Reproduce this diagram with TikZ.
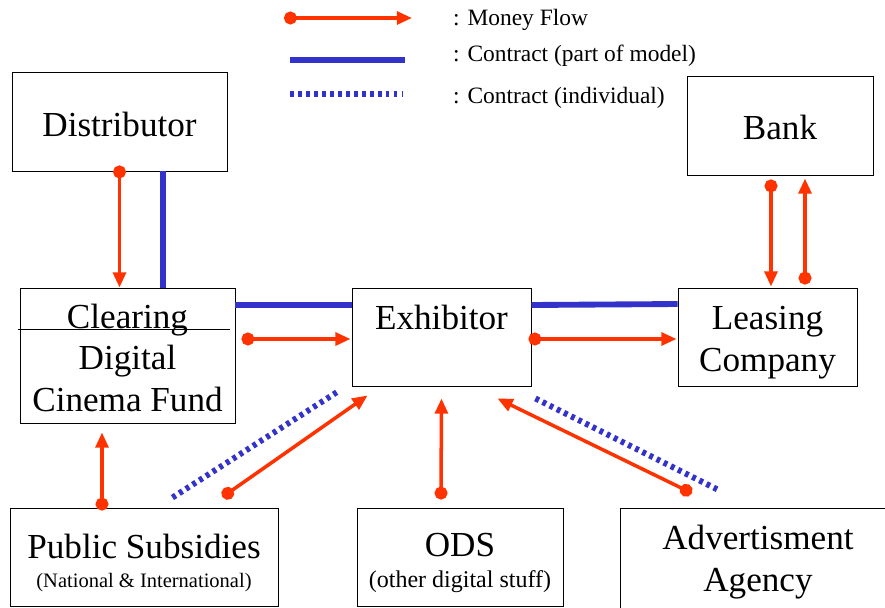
\documentclass[tikz,border=0pt]{standalone}
\usepackage{fontspec}
\setmainfont{Liberation Serif}
\usetikzlibrary{arrows.meta,calc}
\definecolor{moneyred}{RGB}{255,51,0}
\definecolor{contractblue}{RGB}{51,51,204}
\tikzset{
  box/.style={draw,line width=0.8pt,inner sep=0pt},
  boxtext/.style={inner sep=0pt,align=center,font=\fontsize{30}{35.7}\selectfont},
  money/.style={draw=moneyred,line width=3pt,{Circle[length=11pt]}-{Triangle[length=13pt,width=11pt]}},
  contract/.style={draw=contractblue,line width=5pt},
  indiv/.style={draw=contractblue,line width=5pt,dash pattern=on 3.3pt off 3.5pt},
  legtext/.style={anchor=west,inner sep=0pt,font=\fontsize{20}{24}\selectfont}
}
\begin{document}
\begin{tikzpicture}[x=0.03cm,y=-0.03cm]
\useasboundingbox (0,0) rectangle (885,607);
\clip (0,0) rectangle (885,607);
\begin{scope}
\node[legtext] (legmoney) at (453,20) {: Money Flow};
\node[legtext] (legcontract) at (453,56) {: Contract (part of model)};
\node[legtext] (legindiv) at (453,98) {: Contract (individual)};
\draw[money] ($(legmoney.west)+(-169,-2)$) -- ($(legmoney.west)+(-41,-2)$);
\draw[contract] ($(legcontract.west)+(-163,4)$) -- ($(legcontract.west)+(-48,4)$);
\draw[indiv] ($(legindiv.west)+(-163,-4)$) -- ($(legindiv.west)+(-50,-4)$);
\end{scope}
\node[box,minimum width=6.45cm,minimum height=2.97cm,label={[boxtext,yshift=-2.5pt]center:Distributor}] (dist) at (119.5,121.5) {};
\node[box,minimum width=5.58cm,minimum height=2.97cm,label={[boxtext,yshift=-1.7pt]center:Bank}] (bank) at (780,125.5) {};
\node[box,minimum width=6.45cm,minimum height=4.05cm,label={[boxtext,yshift=-2pt]center:{Clearing\\Digital\\Cinema Fund}}] (clear) at (127.5,355.5) {};
\node[box,minimum width=5.37cm,minimum height=2.94cm,label={[boxtext,yshift=-6pt]center:{Exhibitor\\\strut}}] (exhib) at (441.5,337) {};
\node[box,minimum width=5.37cm,minimum height=2.94cm,label={[boxtext,yshift=-5pt]center:{Leasing\\Company}}] (lease) at (767.5,337) {};
\node[box,minimum width=8.04cm,minimum height=2.94cm,label={[boxtext,yshift=-5pt]center:{Public Subsidies\\[-11pt]{\fontsize{17.5}{20}\selectfont (National \& International)}}}] (pub) at (144,557) {};
\node[box,minimum width=6.18cm,minimum height=2.94cm,label={[boxtext,yshift=-5pt]center:{ODS\\[-9.7pt]{\fontsize{20.5}{24}\selectfont (other digital stuff)}}}] (ods) at (460,557) {};
\node[box,minimum width=8.28cm,minimum height=3.24cm,label={[boxtext]center:{Advertisment\\Agency}}] (adv) at (758,562) {};
\draw[line width=0.8pt] ($(clear.north west)+(-2,42)$) -- ($(clear.north east)+(-5,42)$);
\draw[money] ($(dist.south)+(0,-6)$) -- (dist.south |- clear.north);
\draw[contract] ($(dist.south)+(43.5,0)$) -- ($(clear.north)+(35.5,0)$);
\draw[contract] ($(clear.east)+(0,-50.5)$) -- ($(exhib.west)+(0,-32)$);
\draw[money] ($(clear.east)+(6,-16.5)$) -- ($(exhib.west)+(-1,2)$);
\draw[contract] ($(exhib.east)+(0,-32)$) -- ($(lease.west)+(0,-33)$);
\draw[money] ($(exhib.east)+(-3,2)$) -- ($(lease.west)+(-1,2)$);
\draw[money] ($(bank.south)+(-9,4)$) -- ($(lease.north)+(3.5,-1)$);
\draw[money] ($(lease.north)+(37.5,-3)$) -- ($(bank.south)+(25,3)$);
\draw[money] ($(pub.north)+(-42,3)$) -- ($(clear.south)+(-25.5,9)$);
\draw[indiv] ($(pub.north east)+(-106,-10)$) -- ($(exhib.south west)+(-12,4)$);
\draw[money] ($(pub.north east)+(-56,-10.5)$) -- ($(exhib.south west)+(16,9)$);
\draw[money] ($(ods.north)+(-19,-8)$) -- ($(exhib.south)+(0,12)$);
\draw[money] ($(adv.north west)+(72.4,-14.4)$) -- ($(exhib.south east)+(-34,12)$);
\draw[indiv] ($(exhib.south east)+(4,12)$) -- ($(adv.north west)+(98,-18)$);
\end{tikzpicture}
\end{document}
